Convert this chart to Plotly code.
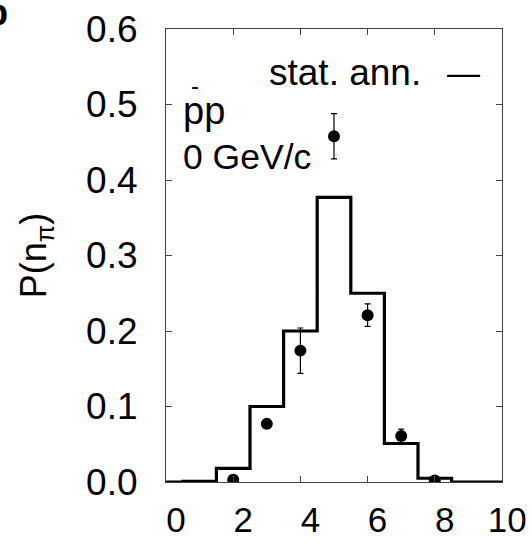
import plotly.graph_objects as go

# model histogram (statistical annihilation), bins centered at n
n_bins = [0, 1, 2, 3, 4, 5, 6, 7, 8, 9, 10]
p_model = [0.0, 0.001, 0.018, 0.100, 0.200, 0.377, 0.250, 0.051, 0.005, 0.0, 0.0]

# data points
n_data = [2, 3, 4, 5, 6, 7, 8]
p_data = [0.003, 0.077, 0.174, 0.458, 0.221, 0.061, 0.002]
p_err = [0.0, 0.0, 0.030, 0.030, 0.015, 0.009, 0.0]

x_ticks = [0, 2, 4, 6, 8, 10]
x_labels = ["0", "2", "4", "6", "8", "10\u00a0"]
y_ticks = [0.0, 0.1, 0.2, 0.3, 0.4, 0.5, 0.6]

FONT = "Liberation Sans"

# step edges
edges = [max(n - 0.5, 0) for n in n_bins]
step_x = edges + [10]
step_y = p_model + [p_model[-1]]

fig = go.Figure()
fig.add_trace(go.Scatter(x=step_x, y=step_y, mode="lines", line=dict(color="black", width=3.2, shape="hv"),
                         showlegend=False, hoverinfo="skip"))
fig.add_trace(go.Scatter(x=n_data, y=p_data, mode="markers",
                         marker=dict(color="black", size=12, symbol="circle"),
                         error_y=dict(type="data", array=p_err, color="black", thickness=1.2, width=3),
                         showlegend=False))

fig.update_layout(
    width=532, height=546,
    margin=dict(l=166, r=30, t=29, b=64),
    paper_bgcolor="white", plot_bgcolor="white",
    font=dict(family=FONT, color="black"),
    xaxis=dict(range=[0, 10], tickvals=x_ticks, ticktext=x_labels,
               ticks="inside", ticklen=6, tickcolor="#444", showgrid=False, zeroline=False,
               showline=True, linecolor="#444", linewidth=1.2, mirror="ticks", automargin=False,
               tickfont=dict(size=35, family=FONT), ticklabelshift=10, ticklabelstandoff=7,
               ticklabeloverflow="allow"),
    yaxis=dict(range=[0, 0.6], tickvals=y_ticks, ticktext=["%.1f" % v for v in y_ticks],
               ticks="inside", ticklen=6, tickcolor="#444", showgrid=False, zeroline=False,
               showline=True, linecolor="#444", linewidth=1.2, mirror="ticks", automargin=False,
               tickfont=dict(size=37, family=FONT), ticklabelstandoff=20,
               title=dict(text="P(n<sub>π</sub>)", font=dict(size=36, family=FONT), standoff=28)),
)

fig.add_annotation(xref="paper", yref="paper", x=0.765, y=0.905, xanchor="right", yanchor="middle",
                   text="stat. ann.", showarrow=False, font=dict(size=37, family=FONT))
fig.add_annotation(xref="paper", yref="paper", x=0.94, y=0.905, xanchor="right", yanchor="middle",
                   text="—", showarrow=False, font=dict(size=33, family=FONT))
fig.add_annotation(xref="paper", yref="paper", x=0.045, y=0.82, xanchor="left", yanchor="middle",
                   text="pp", showarrow=False, font=dict(size=38, family=FONT))
fig.add_annotation(xref="paper", yref="paper", x=0.068, y=0.875, xanchor="left", yanchor="middle",
                   text="-", showarrow=False, font=dict(size=24, family=FONT))
fig.add_annotation(xref="paper", yref="paper", x=0.045, y=0.718, xanchor="left", yanchor="middle",
                   text="0 GeV/c", showarrow=False, font=dict(size=35.5, family=FONT))
fig.add_annotation(xref="paper", yref="paper", x=-0.463, y=1.037, xanchor="right", yanchor="middle",
                   text="<b>b</b>", showarrow=False, font=dict(size=36, family=FONT))

fig.write_html("out.html")
